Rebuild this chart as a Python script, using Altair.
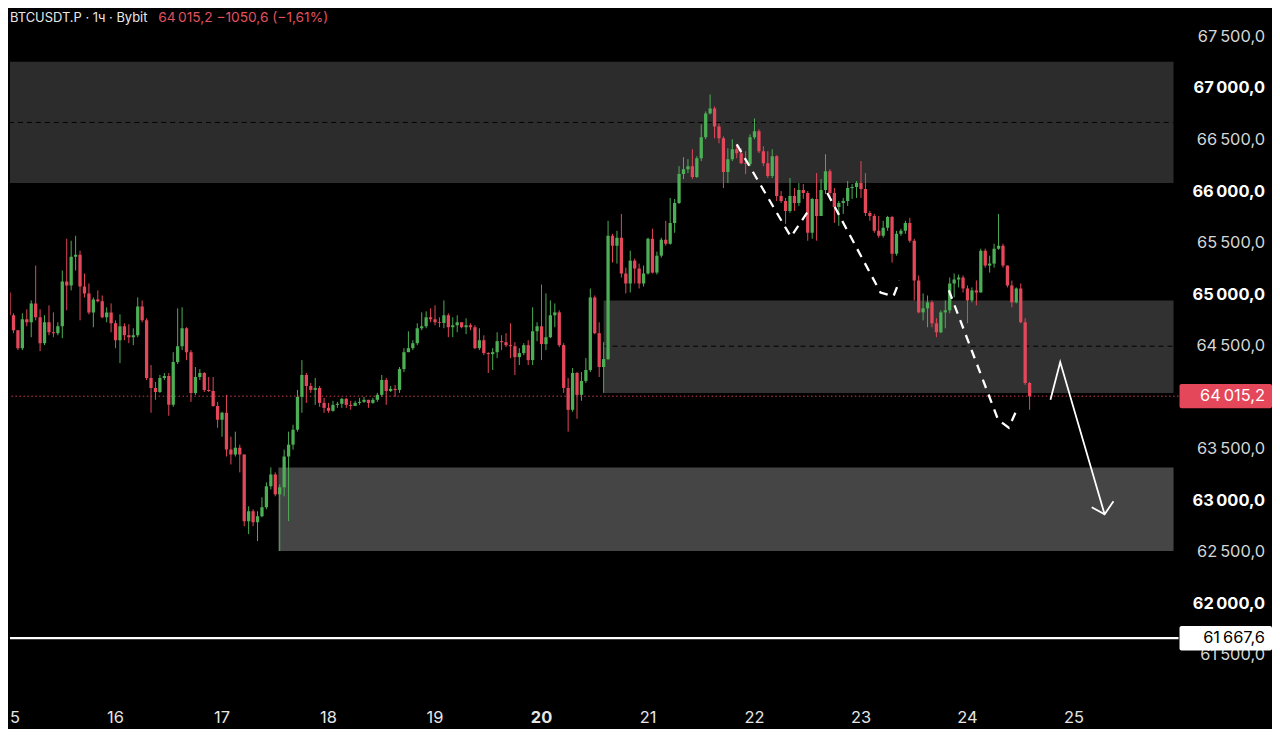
import altair as alt
import pandas as pd

# ---------------- data (hourly candles, t = hours since 15th 00:00) ----------------
FIRST_OPEN = 65021
close = [64800, 64655, 64481, 64761, 64732, 64915, 64780, 64529, 64732, 64635,
         64626, 64693, 65127, 65089, 65368, 65388, 65079, 65012, 64828, 64954,
         64935, 64780, 64828, 64722, 64558, 64693, 64606, 64587, 64606, 64886,
         64751, 64192, 64095, 64056, 64192, 64211, 63931, 64346, 64500, 64674,
         64442, 64047, 64201, 64240, 64076, 64066, 63921, 63787, 63854, 63497,
         63449, 63516, 63449, 62803, 62899, 62793, 62851, 62938, 63141, 63256,
         63063, 63131, 63430, 63545, 63690, 64008, 64221, 64114, 64076, 64095,
         63950, 63902, 63873, 63931, 63941, 63989, 63931, 63921, 63950, 63960,
         63980, 63950, 63980, 64028, 64172, 64066, 64086, 64076, 64278, 64442,
         64481, 64529, 64674, 64693, 64780, 64761, 64732, 64725, 64800, 64684,
         64703, 64732, 64684, 64703, 64684, 64481, 64558, 64433, 64423, 64442,
         64549, 64539, 64510, 64500, 64394, 64433, 64510, 64365, 64645, 64693,
         64520, 64587, 64800, 64828, 64510, 64095, 63883, 64240, 64028, 64163,
         64269, 64973, 64626, 64298, 64375, 65571, 65475, 65552, 65205, 65108,
         65330, 65253, 65108, 65205, 65542, 65214, 65378, 65533, 65494, 65696,
         65889, 66169, 66217, 66246, 66140, 66323, 66526, 66758, 66806, 66632,
         66516, 66189, 66314, 66410, 66372, 66275, 66266, 66526, 66584, 66391,
         66275, 66150, 66343, 65957, 65909, 65812, 65957, 65889, 66015, 65986,
         65600, 65928, 65764, 66015, 66198, 65986, 65851, 65889, 65909, 66034,
         66044, 66082, 66025, 65793, 65764, 65619, 65571, 65648, 65754, 65397,
         65590, 65619, 65696, 65523, 65137, 64828, 64867, 64925, 64722, 64635,
         64828, 64848, 65108, 65147, 65166, 65060, 64944, 65041, 65021, 65426,
         65282, 65301, 65446, 65475, 65282, 65089, 64925, 65060, 64732, 64143,
         64015.2]
high = [65041, 64819, 64655, 64819, 64858, 64944, 65282, 64858, 64800, 64896,
        64828, 64732, 65234, 65542, 65523, 65571, 65426, 65205, 65108, 64973,
        65041, 64992, 64877, 64915, 64751, 64809, 64722, 64713, 64674, 64973,
        64944, 64771, 64317, 64153, 64221, 64240, 64240, 64442, 64867, 64877,
        64684, 64462, 64298, 64278, 64249, 64201, 64201, 63960, 63864, 64028,
        63622, 63671, 63545, 63449, 62947, 62918, 62899, 63034, 63179, 63324,
        63276, 63160, 63497, 63671, 63738, 64076, 64365, 64240, 64143, 64192,
        64114, 63999, 63950, 63970, 63960, 63999, 63999, 63970, 63970, 63999,
        64008, 63980, 63999, 64047, 64221, 64192, 64114, 64124, 64298, 64481,
        64645, 64558, 64722, 64828, 64838, 64867, 64896, 64780, 64944, 64819,
        64780, 64800, 64732, 64771, 64722, 64703, 64674, 64606, 64442, 64481,
        64635, 64606, 64626, 64722, 64539, 64481, 64529, 64558, 64877, 64732,
        65099, 65012, 64944, 64915, 64848, 64529, 64192, 64288, 64249, 64249,
        64384, 65060, 64992, 64732, 64539, 65716, 65590, 65619, 65783, 65262,
        65426, 65349, 65301, 65282, 65552, 65639, 65417, 65552, 65716, 65938,
        65928, 66246, 66333, 66314, 66410, 66343, 66652, 66777, 66941, 66825,
        66661, 66536, 66420, 66507, 66458, 66420, 66391, 66555, 66709, 66603,
        66439, 66391, 66410, 66352, 66005, 65938, 66131, 66034, 66082, 66073,
        66005, 65938, 66179, 66121, 66362, 66217, 66034, 65909, 65938, 66102,
        66073, 66102, 66295, 66179, 65812, 65783, 65764, 65716, 65764, 65764,
        65619, 65639, 65716, 65745, 65542, 65186, 65012, 64992, 64944, 64771,
        64848, 64944, 65166, 65205, 65195, 65186, 65089, 65070, 65137, 65446,
        65446, 65378, 65494, 65783, 65494, 65282, 65137, 65070, 65108, 64771,
        64153]
low = [64771, 64626, 64462, 64462, 64693, 64587, 64751, 64452, 64510, 64606,
       64587, 64606, 64578, 64848, 65041, 65234, 64751, 64973, 64809, 64684,
       64925, 64771, 64732, 64635, 64481, 64336, 64558, 64529, 64510, 64587,
       64732, 64172, 63854, 63980, 64047, 64172, 63825, 63912, 64327, 64462,
       64365, 63960, 64028, 64172, 64056, 64056, 63912, 63709, 63622, 63430,
       63353, 63430, 63276, 62754, 62677, 62754, 62610, 62841, 62918, 63111,
       63044, 62513, 63044, 62803, 63497, 63671, 63854, 63950, 64047, 63931,
       63912, 63854, 63854, 63864, 63902, 63902, 63902, 63883, 63921, 63931,
       63950, 63902, 63941, 63960, 64008, 63931, 64056, 64008, 64047, 64249,
       64442, 64462, 64510, 64655, 64674, 64732, 64703, 64684, 64674, 64587,
       64587, 64635, 64674, 64616, 64655, 64471, 64462, 64413, 64240, 64269,
       64384, 64462, 64491, 64384, 64221, 64317, 64413, 64317, 64317, 64549,
       64365, 64462, 64578, 64684, 64491, 64047, 63671, 63864, 63796, 63970,
       64143, 64249, 64616, 64201, 64047, 64365, 65311, 65301, 65166, 65012,
       65021, 65108, 65060, 65079, 65195, 65205, 65195, 65359, 65475, 65484,
       65600, 65880, 66121, 66179, 66121, 66131, 66295, 66507, 66748, 66516,
       66468, 66034, 66082, 66295, 66323, 66266, 66169, 66246, 66507, 66372,
       66246, 66131, 66131, 65909, 65889, 65687, 65793, 65812, 65860, 65928,
       65523, 65542, 65523, 65764, 65976, 65938, 65696, 65668, 65783, 65860,
       65928, 65938, 65938, 65764, 65716, 65600, 65552, 65552, 65619, 65311,
       65378, 65571, 65590, 65504, 64944, 64819, 64751, 64684, 64684, 64587,
       64626, 64674, 64819, 64973, 65070, 65021, 64722, 64925, 64896, 65021,
       65262, 65214, 65262, 65436, 65262, 65070, 64877, 64915, 64722, 64124,
       63883]

# zones (supply / demand boxes)
zone_t0 = [0, 134.0, 60.7]
zone_top = [67260, 64944, 63324]
zone_bottom = [66082, 64047, 62513]
zone_fill = ["#2c2c2c", "#313131", "#454545"]
mid_price = [66670, 64500]
mid_t0 = [0, 134.0]

last_price = 64015.2
level_price = 61667.6

# hand-drawn dashed paths (hour, price)
path_id = ["a", "a", "a", "b", "b", "b", "b", "c", "c", "c", "c"]
path_t = [164.0, 176.2, 180.0, 184.4, 196.4, 199.3, 200.7, 211.8, 222.9, 225.3, 227.3]
path_p = [66458, 65561, 65803, 65986, 65021, 64983, 65137, 65041, 63787, 63709, 63902]

# solid arrow
arrow_id = ["shaft", "shaft", "shaft", "head", "head", "head"]
arrow_t = [234.7, 236.9, 246.9, 244.0, 246.9, 248.9]
arrow_p = [63980, 64346, 62870, 62938, 62870, 62995]

# tick labels
day_numbers = [16, 17, 18, 19, 20, 21, 22, 23, 24, 25]
day_hours = [24, 48, 72, 96, 120, 144, 168, 192, 216, 240]
bold_day = 20
price_ticks = [61500, 62000, 62500, 63000, 63500, 64500, 65000, 65500, 66000, 66500, 67000, 67500]

T_MIN, T_MAX = 1.333, 262.44
P_MIN, P_MAX = 61086, 67761

UP, DOWN = "#4cae55", "#e5475a"
FONT = "Inter"
THIN = "\u2009"


def fmt_price(v):
    whole = int(v)
    dec = int(round((v - whole) * 10))
    return f"{whole // 1000}{THIN}{whole % 1000:03d},{dec}"


# ---------------- frames ----------------
n = min(len(close), len(high), len(low))
opens = [FIRST_OPEN] + close[: n - 1]
candles = pd.DataFrame({
    "t": list(range(n)),
    "open": opens,
    "close": close[:n],
    "high": [max(h, o, c) for h, o, c in zip(high[:n], opens, close[:n])],
    "low": [min(l, o, c) for l, o, c in zip(low[:n], opens, close[:n])],
})
candles["dir"] = ["up" if c >= o else "down" for o, c in zip(candles["open"], candles["close"])]

zones = pd.DataFrame({"t0": zone_t0, "t1": [T_MAX] * 3, "top": zone_top,
                      "bottom": zone_bottom, "fill": zone_fill})
mids = pd.DataFrame({"t0": mid_t0, "t1": [T_MAX] * 2, "p": mid_price})
paths = pd.DataFrame({"id": path_id, "t": path_t, "p": path_p, "i": list(range(len(path_t)))})
arrow = pd.DataFrame({"id": arrow_id, "t": arrow_t, "p": arrow_p, "i": list(range(len(arrow_t)))})

x_labels = pd.DataFrame({"t": day_hours, "label": [str(d) for d in day_numbers],
                         "bold": [d == bold_day for d in day_numbers]})
y_labels = pd.DataFrame({"p": price_ticks, "label": [fmt_price(v) for v in price_ticks],
                         "bold": [v % 1000 == 0 for v in price_ticks]})

xs = alt.Scale(domain=[T_MIN, T_MAX], nice=False, zero=False)
ys = alt.Scale(domain=[P_MIN, P_MAX], nice=False, zero=False)


def X(field):
    return alt.X(field, scale=xs, axis=None)


def Y(field):
    return alt.Y(field, scale=ys, axis=None)


zone_layer = alt.Chart(zones).mark_rect(clip=True).encode(
    x=X("t0:Q"), x2="t1:Q", y=Y("top:Q"), y2="bottom:Q",
    color=alt.Color("fill:N", scale=None),
)
mid_layer = alt.Chart(mids).mark_rule(clip=True, color="#000000", strokeDash=[5, 4], strokeWidth=1).encode(
    x=X("t0:Q"), x2="t1:Q", y=Y("p:Q"),
)
last_line = alt.Chart(pd.DataFrame({"p": [last_price]})).mark_rule(
    color="#e5475a", strokeDash=[1.5, 2.5], strokeWidth=1, opacity=0.9).encode(y=Y("p:Q"))
level_line = alt.Chart(pd.DataFrame({"p": [level_price]})).mark_rule(
    color="#ffffff", strokeWidth=2.2).encode(y=Y("p:Q"))

col = alt.Color("dir:N", scale=alt.Scale(domain=["up", "down"], range=[UP, DOWN]), legend=None)
wicks = alt.Chart(candles).mark_rule(clip=True, strokeWidth=1).encode(
    x=X("t:Q"), y=Y("low:Q"), y2="high:Q", color=col)
bodies = alt.Chart(candles).mark_bar(clip=True, size=3.3).encode(
    x=X("t:Q"), y=Y("open:Q"), y2="close:Q", color=col)

dashed = alt.Chart(paths).mark_line(color="#ffffff", strokeWidth=2.3, strokeDash=[9, 7], clip=True).encode(
    x=X("t:Q"), y=Y("p:Q"), detail="id:N", order="i:Q")
arrow_layer = alt.Chart(arrow).mark_line(color="#ffffff", strokeWidth=1.8, clip=True).encode(
    x=X("t:Q"), y=Y("p:Q"), detail="id:N", order="i:Q")


# axis tick labels placed through the scales
def x_text(bold):
    return alt.Chart(x_labels).transform_filter(
        "datum.bold" if bold else "!datum.bold").mark_text(
        align="center", baseline="middle", font=FONT, fontSize=16.5,
        fontWeight="bold" if bold else "normal", color="#e6e6e6").encode(
        x=X("t:Q"), y=alt.value(712), text="label:N")


def y_text(bold):
    return alt.Chart(y_labels).transform_filter(
        "datum.bold" if bold else "!datum.bold").mark_text(
        align="right", baseline="middle", font=FONT, fontSize=16.5,
        fontWeight="bold" if bold else "normal",
        color="#ffffff" if bold else "#d6d6d6").encode(
        x=alt.value(1262), y=Y("p:Q"), text="label:N")


first_day = alt.Chart(pd.DataFrame({"s": ["5"]})).mark_text(
    align="left", baseline="middle", font=FONT, fontSize=16.5, color="#e6e6e6").encode(
    x=alt.value(0), y=alt.value(712), text="s:N")

title_white = alt.Chart(pd.DataFrame({"s": ["BTCUSDT.P · 1ч · Bybit"]})).mark_text(
    align="left", baseline="middle", font=FONT, fontSize=13, color="#e8e8e8").encode(
    x=alt.value(0), y=alt.value(8), text="s:N")
title_red = alt.Chart(pd.DataFrame({"s": [f"64{THIN}015,2  −1050,6 (−1,61%)"]})).mark_text(
    align="left", baseline="middle", font=FONT, fontSize=13.8, color="#e0505f").encode(
    x=alt.value(149), y=alt.value(8), text="s:N")

boxes = pd.DataFrame({
    "p": [last_price, level_price],
    "label": [fmt_price(last_price), fmt_price(level_price)],
    "fill": ["#e5475a", "#ffffff"],
    "ink": ["#ffffff", "#000000"],
})
box_rect = alt.Chart(boxes).transform_calculate(
    top="datum.p + 118", bottom="datum.p - 118").mark_rect(cornerRadius=2).encode(
    x=alt.value(1176), x2=alt.value(1269),
    y=Y("top:Q"), y2="bottom:Q",
    color=alt.Color("fill:N", scale=None))
box_text = alt.Chart(boxes).mark_text(
    align="right", baseline="middle", font=FONT, fontSize=16.5).encode(
    x=alt.value(1262), y=Y("p:Q"), text="label:N",
    color=alt.Color("ink:N", scale=None))

chart = alt.layer(
    zone_layer, mid_layer, last_line, level_line, wicks, bodies, dashed, arrow_layer,
    x_text(False), x_text(True), y_text(False), y_text(True), first_day,
    title_white, title_red, box_rect, box_text,
).properties(
    width=1175, height=692, padding=0, background="#000000",
).configure_view(stroke=None)

chart.save("out.html", embed_options={"renderer": "svg", "actions": False})
